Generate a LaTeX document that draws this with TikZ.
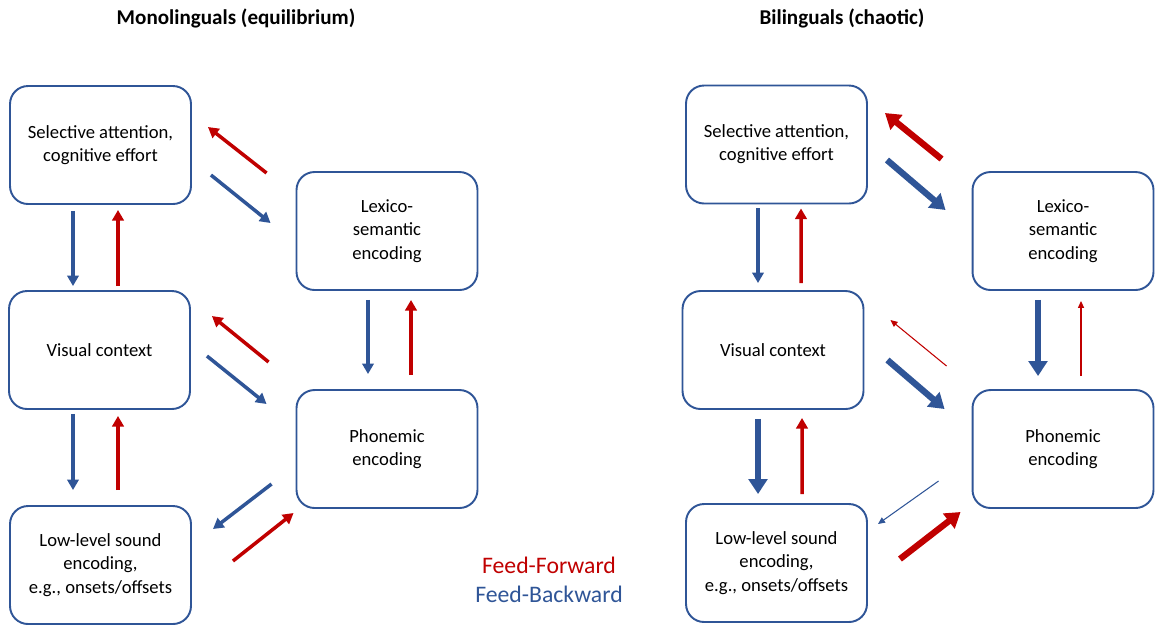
\documentclass[tikz,border=0pt]{standalone}
\usepackage{fontspec}
\setmainfont{Carlito}
\usetikzlibrary{arrows.meta,calc}

\definecolor{ffred}{HTML}{C00000}
\definecolor{fbblue}{HTML}{2F5597}

\tikzset{
  stage/.style={draw=fbblue, line width=1.1pt, rounded corners=0.36cm,
    minimum width=3.62cm, minimum height=2.36cm, inner sep=0pt,
    align=center, font=\fontsize{10.6}{13.2}\selectfont},
  paneltitle/.style={font=\fontsize{12}{14}\selectfont\bfseries},
  legend/.style={font=\fontsize{13.5}{16}\selectfont},
  ff/.style={ffred, line width=2pt, -{Triangle[width=6.5pt,length=6pt]}},
  fb/.style={fbblue, line width=2pt, -{Triangle[width=6.5pt,length=6pt]}},
  heavy/.style={line width=3.6pt, -{Triangle[width=10.5pt,length=8.5pt]}},
  light/.style={line width=0.6pt, -{Triangle[width=3.5pt,length=4pt]}},
}

\begin{document}
\begin{tikzpicture}[x=0.02cm, y=-0.02cm]
    \useasboundingbox (0,0) rectangle (1155,627);

    % Titles
    \node[paneltitle] (monotitle) at (236,18) {Monolinguals (equilibrium)};
    \node[paneltitle] (bititle) at (842,18) {Bilinguals (chaotic)};

    % Monolinguals: stages
    \node[stage] (sa) at (100.5,145) {Selective attention,\\cognitive effort};
    \node[stage] (lex) at (387,231) {Lexico-\\semantic\\encoding};
    \node[stage] (vc) at (99.5,350) {Visual context};
    \node[stage] (ph) at (387,449) {Phonemic\\encoding};
    \node[stage] (ls) at (100.5,565) {Low-level sound\\encoding,\\e.g., onsets/offsets};

    % Monolinguals: links
    \draw[fb] ($(sa.south)+(-27.5,6)$) -- ($(vc.north)+(-26.5,-4)$);
    \draw[ff] ($(vc.north)+(18.5,-4)$) -- ($(sa.south)+(17.5,5)$);
    \draw[ff] ($(lex.west)+(-29,-58)$) -- ($(sa.east)+(16,-18)$);
    \draw[fb] ($(sa.east)+(19,30)$) -- ($(lex.west)+(-25,-8)$);
    \draw[fb] ($(lex.south)+(-19,9)$) -- ($(ph.north)+(-19,-15)$);
    \draw[ff] ($(ph.north)+(24,-14)$) -- ($(lex.south)+(24,9)$);
    \draw[ff] ($(ph.west)+(-27,-87)$) -- ($(vc.east)+(21,-34)$);
    \draw[fb] ($(vc.east)+(16,6)$) -- ($(ph.west)+(-29,-45)$);
    \draw[fb] ($(vc.south)+(-26.5,4)$) -- ($(ls.north)+(-27.5,-15)$);
    \draw[ff] ($(ls.north)+(17.5,-15)$) -- ($(vc.south)+(18.5,6)$);
    \draw[fb] ($(ph.west)+(-24,35)$) -- ($(ls.east)+(21,-36)$);
    \draw[ff] ($(ls.east)+(41,-4)$) -- ($(ph.west)+(-2,64)$);

    % Legend
    \node[legend, ffred] (fwd) at (549,565) {Feed-Forward};
    \node[legend, fbblue] (bwd) at (549,594) {Feed-Backward};

    % Bilinguals: stages
    \node[stage] (sa2) at (776.5,144.5) {Selective attention,\\cognitive effort};
    \node[stage] (lex2) at (1063,231) {Lexico-\\semantic\\encoding};
    \node[stage] (vc2) at (773,350) {Visual context};
    \node[stage] (ph2) at (1063,449) {Phonemic\\encoding};
    \node[stage] (ls2) at (776.5,563) {Low-level sound\\encoding,\\e.g., onsets/offsets};

    % Bilinguals: links (weight = strength)
    \draw[fb] ($(sa2.south)+(-18.5,4)$) -- ($(vc2.north)+(-15,-7)$);
    \draw[ff] ($(vc2.north)+(28,-7)$) -- ($(sa2.south)+(24.5,4)$);
    \draw[ff, heavy] ($(lex2.west)+(-30,-72)$) -- ($(sa2.east)+(17,-31.5)$);
    \draw[fb, heavy] ($(sa2.east)+(19,15.5)$) -- ($(lex2.west)+(-26,-21)$);
    \draw[fb, heavy] ($(lex2.south)+(-25,9)$) -- ($(ph2.north)+(-25,-13)$);
    \draw[ff, light] ($(ph2.north)+(18,-13)$) -- ($(lex2.south)+(18,10)$);
    \draw[ff, light] ($(ph2.west)+(-25,-83)$) -- ($(vc2.east)+(26,-30)$);
    \draw[fb, heavy] ($(vc2.east)+(23,10)$) -- ($(ph2.west)+(-27,-40)$);
    \draw[fb, heavy] ($(vc2.south)+(-15,9)$) -- ($(ls2.north)+(-18.5,-9)$);
    \draw[ff] ($(ls2.north)+(25.5,-9)$) -- ($(vc2.south)+(29,8)$);
    \draw[fb, light] ($(ph2.west)+(-33,32)$) -- ($(ls2.east)+(10,-39)$);
    \draw[ff, heavy] ($(ls2.east)+(32,-4)$) -- ($(ph2.west)+(-11,63)$);
\end{tikzpicture}
\end{document}
